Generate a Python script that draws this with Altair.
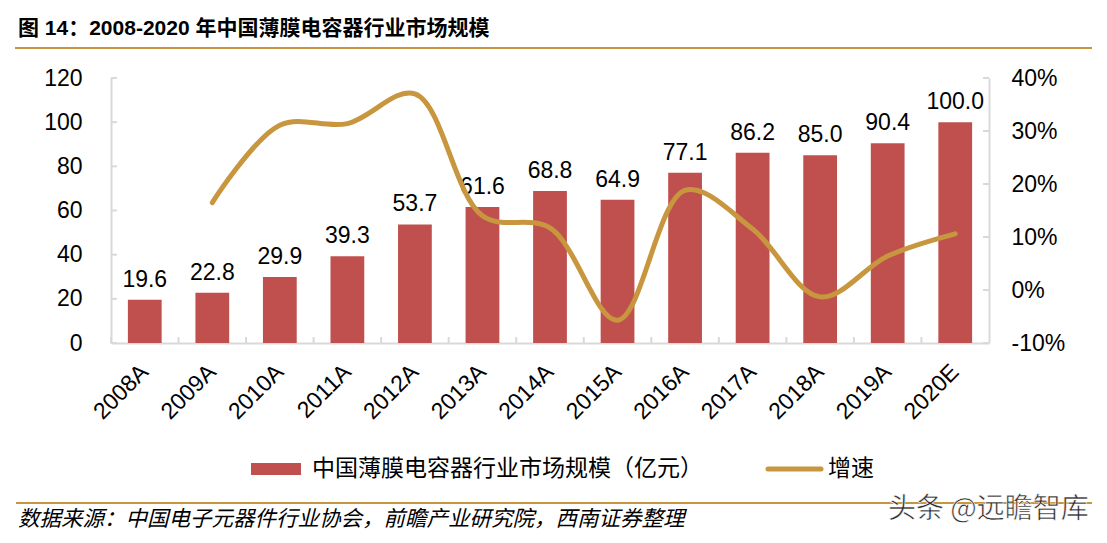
import altair as alt
import pandas as pd

years = ["2008A", "2009A", "2010A", "2011A", "2012A", "2013A", "2014A",
         "2015A", "2016A", "2017A", "2018A", "2019A", "2020E"]
market = [19.6, 22.8, 29.9, 39.3, 53.7, 61.6, 68.8, 64.9, 77.1, 86.2, 85.0, 90.4, 100.0]
growth = [None, 0.165, 0.311, 0.314, 0.37, 0.14, 0.117, -0.057, 0.188, 0.115, -0.013, 0.064, 0.106]
left_ticks = [0, 20, 40, 60, 80, 100, 120]
right_ticks = [-0.1, 0.0, 0.1, 0.2, 0.3, 0.4]

title_text = "图 14：2008-2020 年中国薄膜电容器行业市场规模"
bar_name = "中国薄膜电容器行业市场规模（亿元）"
line_name = "增速"
source_text = "数据来源：中国电子元器件行业协会，前瞻产业研究院，西南证券整理"
watermark = "头条 @远瞻智库"

BAR = "#c0504d"
GOLD = "#c8963e"
AXIS = "#d9d9d9"
LAT = "Liberation Sans"
CJK = "Liberation Sans, Noto Sans CJK SC"

df = pd.DataFrame({"year": years, "market": market, "growth": growth})
lt = pd.DataFrame({"market": left_ticks})
rt = pd.DataFrame({"growth": right_ticks})
one = pd.DataFrame({"k": [0]})

xscale = alt.Scale(paddingInner=0.5, paddingOuter=0.25)
xaxis = alt.Axis(title=None, labelAngle=-45, labelAlign="right", labelBaseline="middle",
                 labelPadding=25, labelFontSize=23, labelFont=LAT, labelColor="#000",
                 ticks=False, domainColor=AXIS, domainWidth=2)
laxis = alt.Axis(title=None, values=left_ticks, grid=False, ticks=False,
                 labelPadding=29, labelFontSize=23, labelFont=LAT, labelColor="#000",
                 domainColor=AXIS, domainWidth=2)
raxis = alt.Axis(title=None, orient="right", values=right_ticks, grid=False,
                 labelExpr="replace(format(datum.value, '.0%'), '\u2212', '-')",
                 ticks=False, labelPadding=22, labelFontSize=23, labelFont=LAT,
                 labelColor="#000", domainColor=AXIS, domainWidth=2)
lscale = alt.Scale(domain=[0, 120])
rscale = alt.Scale(domain=[-0.1, 0.4])

x = alt.X("year:N", sort=years, scale=xscale, axis=xaxis)
x_start = alt.X("year:N", sort=years, scale=xscale, axis=xaxis, bandPosition=0)

base = alt.Chart(df)

bars = base.mark_bar(color=BAR).encode(
    x=x, y=alt.Y("market:Q", scale=lscale, axis=laxis))

labels = base.mark_text(baseline="alphabetic", dy=-13, fontSize=23, font=LAT, color="#000").encode(
    x=x, y=alt.Y("market:Q", scale=lscale, axis=laxis),
    text=alt.Text("market:Q", format=".1f"))

# inward tick stubs
xticks = base.mark_rule(color=AXIS, strokeWidth=2, xOffset=-16.9).encode(
    x=x_start, y=alt.value(259), y2=alt.value(265))
lticks = alt.Chart(lt).mark_rule(color=AXIS, strokeWidth=2).encode(
    y=alt.Y("market:Q", scale=lscale, axis=laxis), x=alt.value(0), x2=alt.value(6))

line = base.mark_line(color=GOLD, strokeWidth=5, interpolate="catmull-rom", strokeCap="round").encode(
    x=x, y=alt.Y("growth:Q", scale=rscale, axis=raxis))
rticks = alt.Chart(rt).mark_rule(color=AXIS, strokeWidth=2).encode(
    y=alt.Y("growth:Q", scale=rscale, axis=raxis), x=alt.value(872), x2=alt.value(878))

d = alt.Chart(one)
title = d.mark_text(align="left", baseline="alphabetic", fontSize=21, fontWeight="bold",
                    font=CJK, color="#000").encode(
    x=alt.value(-93), y=alt.value(-43), text=alt.value(title_text))
top_rule = d.mark_rule(color=GOLD, strokeWidth=2).encode(
    x=alt.value(-96), x2=alt.value(981), y=alt.value(-30))
leg_rect = d.mark_rect(color=BAR).encode(
    x=alt.value(140), x2=alt.value(190), y=alt.value(385), y2=alt.value(397))
leg_text1 = d.mark_text(align="left", baseline="middle", fontSize=23, font="Noto Sans CJK SC",
                        color="#000").encode(
    x=alt.value(201), y=alt.value(391), text=alt.value(bar_name))
leg_line = d.mark_rule(color=GOLD, strokeWidth=5, strokeCap="round").encode(
    x=alt.value(657), x2=alt.value(710), y=alt.value(391))
leg_text2 = d.mark_text(align="left", baseline="middle", fontSize=23, font="Noto Sans CJK SC",
                        color="#000").encode(
    x=alt.value(717), y=alt.value(391), text=alt.value(line_name))
bottom_rule = d.mark_rule(color=GOLD, strokeWidth=2).encode(
    x=alt.value(-95), x2=alt.value(981), y=alt.value(425))
source = d.mark_text(align="left", baseline="middle", fontSize=21.5, font="Noto Sans CJK SC",
                     fontStyle="italic", color="#000").encode(
    x=alt.value(-93), y=alt.value(442), text=alt.value(source_text))
wm = d.mark_text(align="left", baseline="middle", fontSize=28, font="Noto Sans CJK SC",
                 color="#2b2b2b", stroke="#ffffff", strokeWidth=0.6).encode(
    x=alt.value(777), y=alt.value(432), text=alt.value(watermark))

chart = alt.layer(
    alt.layer(bars, labels, xticks, lticks, title, top_rule, leg_rect, leg_text1, leg_line,
              leg_text2, bottom_rule, source, wm),
    alt.layer(line, rticks),
).resolve_scale(y="independent").properties(
    width=878, height=265,
    padding={"left": 103, "top": 70, "right": 110, "bottom": 190},
    autosize=alt.AutoSizeParams(type="none"),
).configure_view(stroke=None)

chart.save("out.html", embed_options={"renderer": "svg", "actions": False})
